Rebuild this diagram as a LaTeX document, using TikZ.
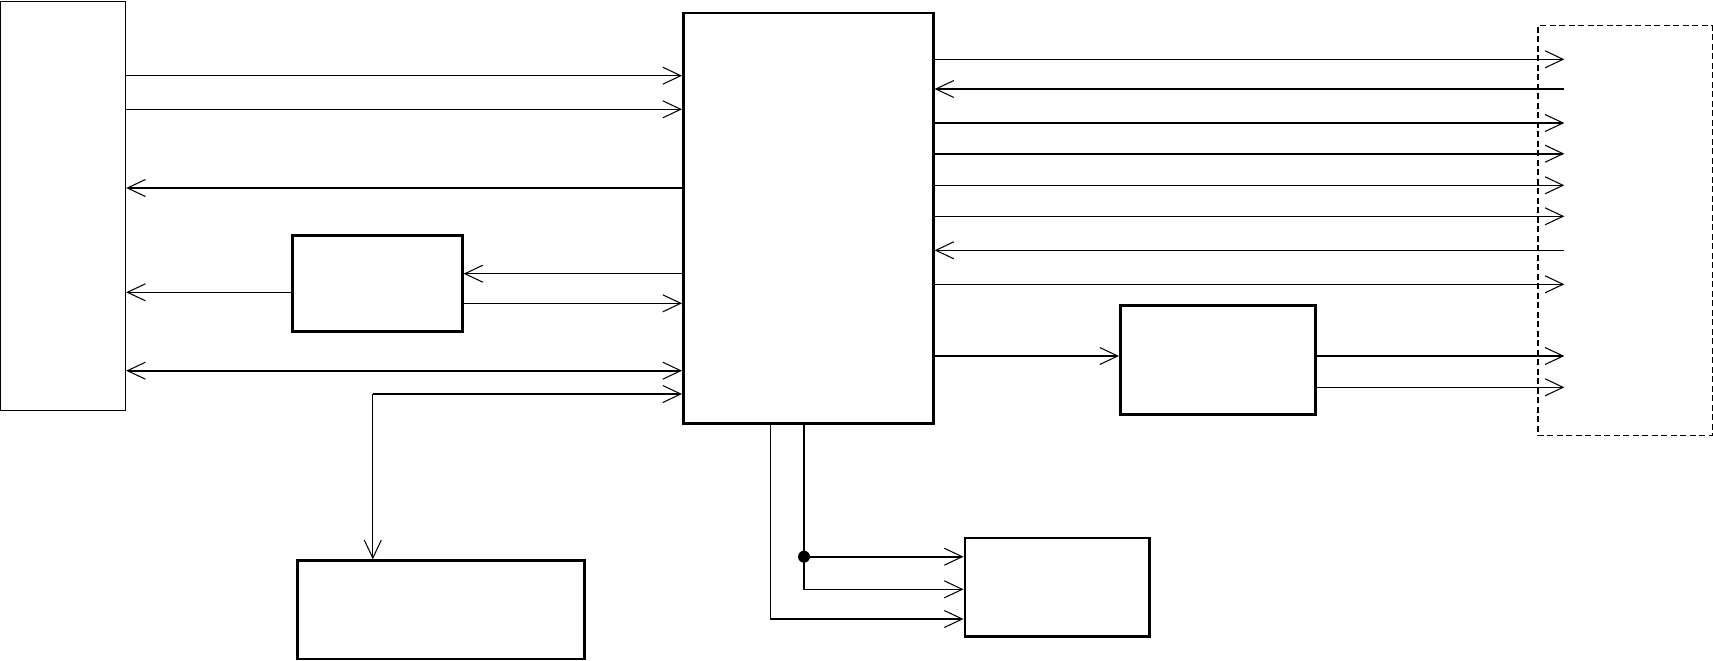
\documentclass[tikz,border=0pt]{standalone}
\usepackage{tikz}
\usetikzlibrary{
  arrows.meta,
  positioning
}
\definecolor{inkblack}{RGB}{0,0,0}
\tikzset{
  blk/.style={draw=inkblack,line width=1.5pt,inner sep=0pt,anchor=north west},
  thinblk/.style={draw=inkblack,line width=0.7pt,inner sep=0pt,anchor=north west},
  extblk/.style={draw=inkblack,line width=0.7pt,dash pattern=on 1.2mm off 0.7mm,
    inner sep=0pt,anchor=north west},
  barb/.tip={Straight Barb[length=3.6mm,width=3.4mm,line width=0.6pt]},
  sig/.style={-barb,line width=0.6pt,draw=inkblack},
  bus/.style={-barb,line width=1.2pt,draw=inkblack},
  busboth/.style={barb-barb,line width=1.2pt,draw=inkblack},
  wire/.style={line width=0.6pt,draw=inkblack},
  joint/.style={circle,fill=inkblack,inner sep=0pt,minimum size=2.4mm}
}

\begin{document}
\begin{tikzpicture}[x=0.02cm,y=-0.02cm]
  \useasboundingbox (0,0) rectangle (1713,660);
  % blocks
  \node[thinblk,minimum width=25mm,minimum height=81.8mm] (host) at (0,1) {};
  \node[blk,minimum width=50mm,minimum height=82.1mm] (core) at (682,11.7) {};
  \node[blk,minimum width=34mm,minimum height=19.2mm] (aux) at (291,234) {};
  \node[blk,minimum width=39mm,minimum height=21.9mm] (drv) at (1119,304) {};
  \node[blk,minimum width=57.5mm,minimum height=19.7mm] (mem) at (296,559.3) {};
  \node[blk,minimum width=36.9mm,minimum height=19.7mm] (outb) at (963.5,536.7) {};
  \node[extblk,minimum width=34.9mm,minimum height=82mm] (ext) at (1537.3,25) {};
  \coordinate (extin) at ([xshift=5.4mm]ext.west);

  % left side
  \draw[sig] (host.east |- 0,75.7) -- (core.west |- 0,75.7);
  \draw[sig] (host.east |- 0,109.3) -- (core.west |- 0,109.3);
  \draw[bus] (core.west |- 0,188) -- (host.east |- 0,188);
  \draw[sig] (core.west |- 0,273.7) -- (aux.east |- 0,273.7);
  \draw[sig] (aux.east |- 0,303.3) -- (core.west |- 0,303.3);
  \draw[sig] (aux.west |- 0,292.3) -- (host.east |- 0,292.3);
  \draw[busboth] (host.east |- 0,370.7) -- (core.west |- 0,370.7);
  \coordinate (memtap) at (372.8,394);
  \draw[bus] (memtap) -- (core.west |- memtap);
  \draw[sig] (memtap) -- (memtap |- mem.north);

  % right side
  \foreach \yy/\st in {59.3/sig,123/bus,153.7/bus,185.3/sig,216.3/sig,284.3/sig}
    \draw[\st] (core.east |- 0,\yy) -- (extin |- 0,\yy);
  \foreach \yy/\st in {89/bus,250.3/sig}
    \draw[\st] (extin |- 0,\yy) -- (core.east |- 0,\yy);
  \draw[bus] (core.east |- 0,356) -- (drv.west |- 0,356);
  \draw[bus] (drv.east |- 0,356) -- (extin |- 0,356);
  \draw[sig] (drv.east |- 0,387.3) -- (extin |- 0,387.3);

  % bottom
  \draw[sig] (core.south -| 770.6,0) |- (outb.west |- 0,619);
  \draw[sig] (core.south -| 804,0) |- (outb.west |- 0,589.3);
  \node[joint] (jn) at (804,556.7) {};
  \draw[bus] (jn.center) -- (outb.west |- jn.center);
\end{tikzpicture}
\end{document}
